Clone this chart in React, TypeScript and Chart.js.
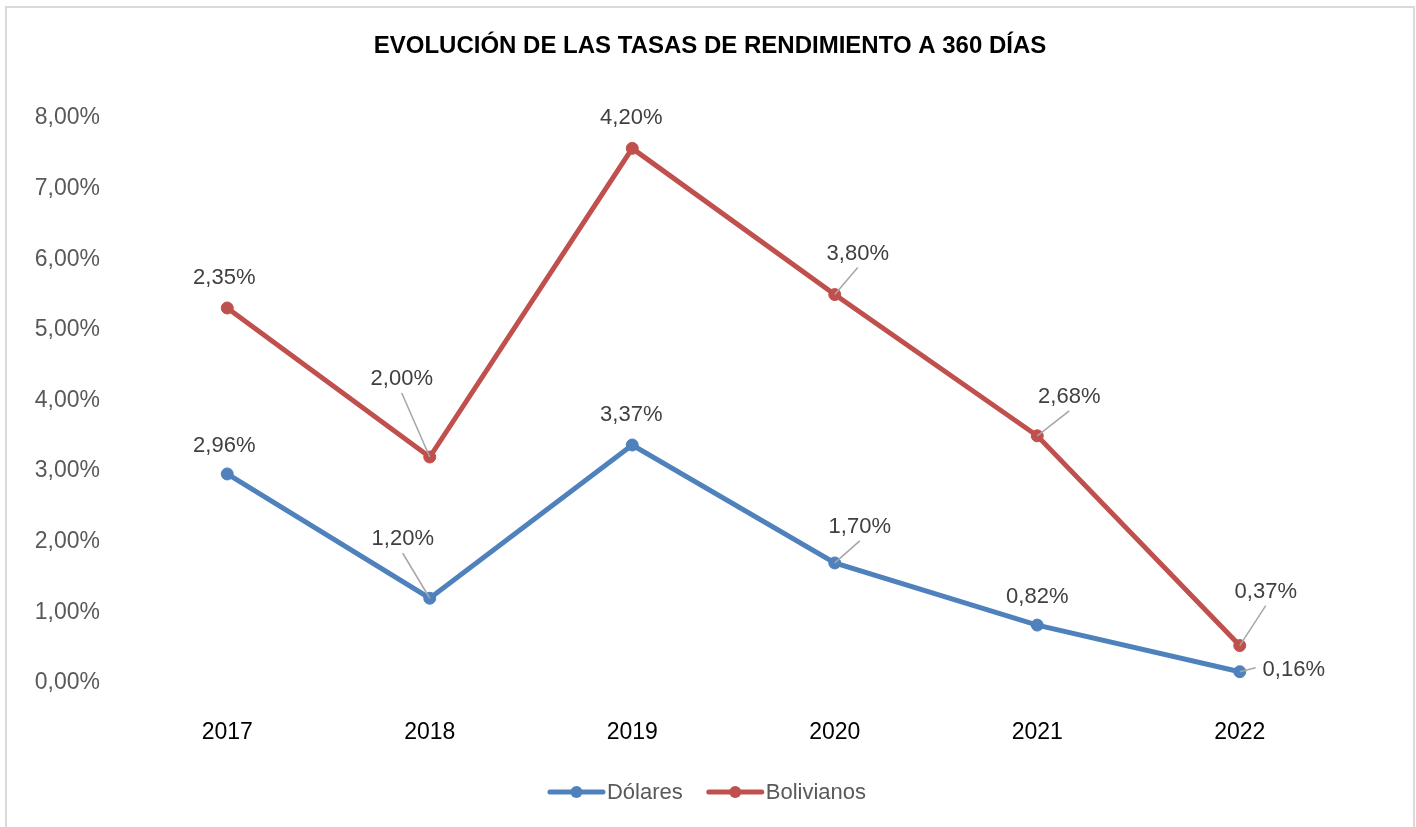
import React, { useEffect, useRef } from "react";
import { Chart, registerables } from "chart.js";
Chart.register(...registerables);

const categories = ["2017", "2018", "2019", "2020", "2021", "2022"];
const dolares = [2.96, 1.2, 3.37, 1.7, 0.82, 0.16];
const bolivianos = [2.35, 2.0, 4.2, 3.8, 2.68, 0.37];
const yMin = 0;
const yMax = 8;
const yStep = 1;
const chartTitle = "EVOLUCIÓN DE LAS TASAS DE RENDIMIENTO A 360 DÍAS";
const seriesNames = ["Dólares", "Bolivianos"];
const seriesColors = ["#4F81BD", "#C0504D"];

// label placement relative to each point (style, not data)
const dolaresLabelOffsets = [[-3, -28], [-27, -59], [-1, -30], [25, -36], [0, -28], [54, -2]];
const dolaresLeader = [false, true, false, true, false, true];
const bolivianosLabelOffsets = [[-3, -30], [-28, -78], [-1, -30], [23, -41], [32, -39], [26, -54]];
const bolivianosLeader = [false, true, false, true, true, true];

const FONT = "'Liberation Sans', Arial, sans-serif";

const fmt = (v: number) => v.toFixed(2).replace(".", ",") + "%";

const overlayPlugin = {
  id: "overlay",
  afterDatasetsDraw(chart: any) {
    const ctx = chart.ctx;
    const offsets = [dolaresLabelOffsets, bolivianosLabelOffsets];
    const leaders = [dolaresLeader, bolivianosLeader];
    const values = [dolares, bolivianos];
    ctx.save();
    ctx.font = `22px ${FONT}`;
    ctx.textAlign = "center";
    ctx.textBaseline = "middle";
    for (let d = 0; d < 2; d++) {
      const meta = chart.getDatasetMeta(d);
      meta.data.forEach((pt: any, i: number) => {
        const [dx, dy] = offsets[d][i];
        const lx = pt.x + dx;
        const ly = pt.y + dy;
        const text = fmt(values[d][i]);
        const w = ctx.measureText(text).width;
        if (leaders[d][i]) {
          let sx = lx;
          let sy = ly + 14;
          if (Math.abs(dx) > Math.abs(dy)) {
            sx = lx - w / 2 - 7;
            sy = ly - 2;
          }
          ctx.strokeStyle = "#A6A6A6";
          ctx.lineWidth = 1.5;
          ctx.beginPath();
          ctx.moveTo(sx, sy);
          ctx.lineTo(pt.x, pt.y);
          ctx.stroke();
        }
        ctx.fillStyle = "#404040";
        ctx.fillText(text, lx, ly);
      });
    }
    ctx.restore();
  },
  afterDraw(chart: any) {
    const ctx = chart.ctx;
    const cx = chart.width / 2;
    ctx.save();
    // title
    ctx.font = `bold 24px ${FONT}`;
    ctx.fillStyle = "#000000";
    ctx.textAlign = "center";
    ctx.textBaseline = "middle";
    ctx.fillText(chartTitle, cx + 2, 46);
    // legend
    ctx.font = `22px ${FONT}`;
    const lineW = 53;
    const gapText = 4;
    const gapItem = 26;
    const widths = seriesNames.map((n) => ctx.measureText(n).width);
    const total = widths.reduce((a, b) => a + b, 0) + 2 * (lineW + gapText) + gapItem;
    let x = cx - total / 2;
    const y = 792;
    ctx.textAlign = "left";
    for (let i = 0; i < seriesNames.length; i++) {
      ctx.strokeStyle = seriesColors[i];
      ctx.lineWidth = 5;
      ctx.lineCap = "round";
      ctx.beginPath();
      ctx.moveTo(x, y);
      ctx.lineTo(x + lineW, y);
      ctx.stroke();
      ctx.fillStyle = seriesColors[i];
      ctx.beginPath();
      ctx.arc(x + lineW / 2, y, 6, 0, Math.PI * 2);
      ctx.fill();
      x += lineW + gapText;
      ctx.fillStyle = "#595959";
      ctx.fillText(seriesNames[i], x, y + 1);
      x += widths[i] + gapItem;
    }
    ctx.restore();
  },
};

export default function App() {
  const ref = useRef<HTMLCanvasElement | null>(null);
  useEffect(() => {
    if (!ref.current) return;
    Chart.defaults.font.family = FONT;
    const chart = new Chart(ref.current, {
      type: "line",
      data: {
        labels: categories,
        datasets: [
          {
            label: seriesNames[0],
            data: dolares,
            borderColor: seriesColors[0],
            backgroundColor: seriesColors[0],
            borderWidth: 5,
            pointRadius: 6,
            pointBorderWidth: 1,
            pointBackgroundColor: seriesColors[0],
            pointBorderColor: seriesColors[0],
            tension: 0,
            fill: false,
          },
          {
            label: seriesNames[1],
            data: bolivianos,
            borderColor: seriesColors[1],
            backgroundColor: seriesColors[1],
            borderWidth: 5,
            pointRadius: 6,
            pointBorderWidth: 1,
            pointBackgroundColor: seriesColors[1],
            pointBorderColor: seriesColors[1],
            tension: 0,
            fill: false,
          },
        ],
      },
      options: {
        responsive: false,
        animation: false,
        layout: { padding: { left: 0, top: 118, right: 75, bottom: 84 } },
        plugins: {
          legend: { display: false },
          title: { display: false },
          tooltip: { enabled: false },
        },
        scales: {
          x: {
            offset: true,
            grid: { display: false, drawTicks: false },
            border: { display: false },
            ticks: {
              padding: 36,
              color: "#000000",
              font: { size: 23, family: FONT },
              maxRotation: 0,
            },
            afterFit: (s: any) => {
              s.height = 60;
            },
          },
          y: {
            stacked: true,
            min: yMin,
            max: yMax,
            grid: { display: false, drawTicks: false },
            border: { display: false },
            ticks: {
              stepSize: yStep,
              padding: 26,
              color: "#595959",
              font: { size: 23, family: FONT },
              callback: (v: any) => fmt(Number(v)),
            },
            afterFit: (s: any) => {
              s.width = 126;
            },
          },
        },
      },
      plugins: [overlayPlugin],
    } as any);
    return () => chart.destroy();
  }, []);
  return (
    <div>
      <div
        style={{
          position: "fixed",
          left: 5,
          top: 6,
          width: 1410,
          height: 840,
          border: "2px solid #d9d9d9",
          borderBottom: "none",
          boxSizing: "border-box",
          background: "#ffffff",
        }}
      />
      <canvas
        ref={ref}
        width={1416}
        height={827}
        style={{ position: "fixed", left: 0, top: 0, display: "block" }}
      />
    </div>
  );
}
